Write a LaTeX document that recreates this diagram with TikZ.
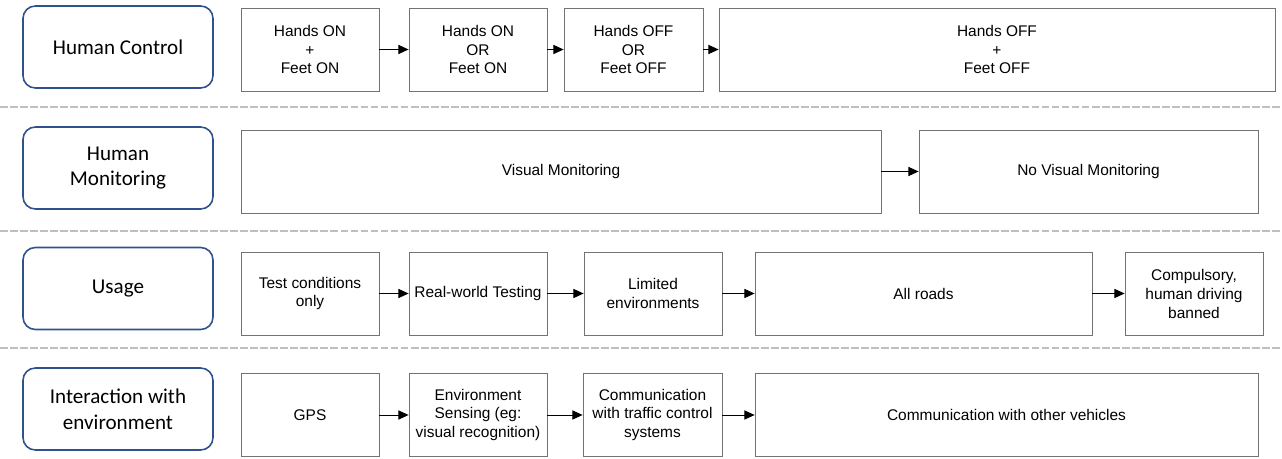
\documentclass[tikz,border=0pt]{standalone}
\usepackage{fontspec}
\setmainfont{Liberation Sans}
\newfontfamily\labelfont{Carlito}
\usepackage{xcolor}
\usepackage{tikz}
\usetikzlibrary{positioning, arrows.meta}

\definecolor{labelblue}{HTML}{2F528F}

\begin{document}
\begin{tikzpicture}[
    x=0.02cm, y=-0.02cm,
    font=\fontsize{8.8}{10.8}\selectfont,
    category/.style={
        rectangle,
        draw=labelblue,
        line width=0.9pt,
        rounded corners=7pt,
        minimum width=3.8cm,
        minimum height=1.64cm,
        align=center,
        font=\labelfont\fontsize{12}{14.7}\selectfont
    },
    stage/.style={
        rectangle,
        draw=gray!90!black,
        line width=0.5pt,
        minimum height=1.66cm,
        inner sep=1pt,
        align=center
    },
    sep/.style={dashed, dash pattern=on 4.5pt off 1.2pt, gray!50, line width=1.7pt},
    next/.style={-{Triangle[length=5.8pt, width=5.2pt]}, line width=0.5pt}
]

\useasboundingbox (0,0) rectangle (1282,459);

% Categories
\node[category] (hc) at (118, 47)    {Human Control};
\node[category] (hm) at (118, 168)   {Human\\Monitoring};
\node[category] (us) at (118, 288.5) {Usage};
\node[category] (ie) at (118, 409)   {Interaction with\\environment};

% Separators
\draw[sep] (0, 107) -- (1282, 107);
\draw[sep] (0, 231) -- (1282, 231);
\draw[sep] (0, 348) -- (1282, 348);

% [HUMAN CONTROL]
\node[stage, minimum width=2.76cm]  (a1) at (310, 49.5)   {Hands ON\\+\\Feet ON};
\node[stage, minimum width=2.76cm]  (a2) at (478, 49.5)   {Hands ON\\OR\\Feet ON};
\node[stage, minimum width=2.78cm]  (a3) at (633.5, 49.5) {Hands OFF\\OR\\Feet OFF};
\node[stage, minimum width=11.12cm] (a4) at (997, 49.5)   {Hands OFF\\+\\Feet OFF};

\draw[next] (a1) -- (a2);
\draw[next] (a2) -- (a3);
\draw[next] (a3) -- (a4);

% [HUMAN MONITORING]
\node[stage, minimum width=12.8cm] (b1) at (561, 171.5)    {Visual Monitoring};
\node[stage, minimum width=6.78cm] (b2) at (1088.5, 171.5) {No Visual Monitoring};

\draw[next] (b1) -- (b2);

% [USAGE]
\node[stage, minimum width=2.76cm] (c1) at (310, 293.5)    {Test conditions\\only};
\node[stage, minimum width=2.76cm] (c2) at (478, 293.5)    {Real-world Testing};
\node[stage, minimum width=2.76cm] (c3) at (653, 293.5)    {Limited\\environments};
\node[stage, minimum width=6.74cm] (c4) at (923.5, 293.5)  {All roads};
\node[stage, minimum width=2.76cm] (c5) at (1194, 293.5)   {Compulsory,\\human driving\\banned};

\draw[next] (c1) -- (c2);
\draw[next] (c2) -- (c3);
\draw[next] (c3) -- (c4);
\draw[next] (c4) -- (c5);

% [INTERACTION WITH ENVIRONMENT]
\node[stage, minimum width=2.76cm]  (d1) at (310, 415)    {GPS};
\node[stage, minimum width=2.76cm]  (d2) at (478, 415)    {Environment\\Sensing (eg:\\visual recognition)};
\node[stage, minimum width=2.78cm]  (d3) at (652.5, 415)  {Communication\\with traffic control\\systems};
\node[stage, minimum width=10.06cm] (d4) at (1006.5, 415) {Communication with other vehicles};

\draw[next] (d1) -- (d2);
\draw[next] (d2) -- (d3);
\draw[next] (d3) -- (d4);

\end{tikzpicture}
\end{document}
